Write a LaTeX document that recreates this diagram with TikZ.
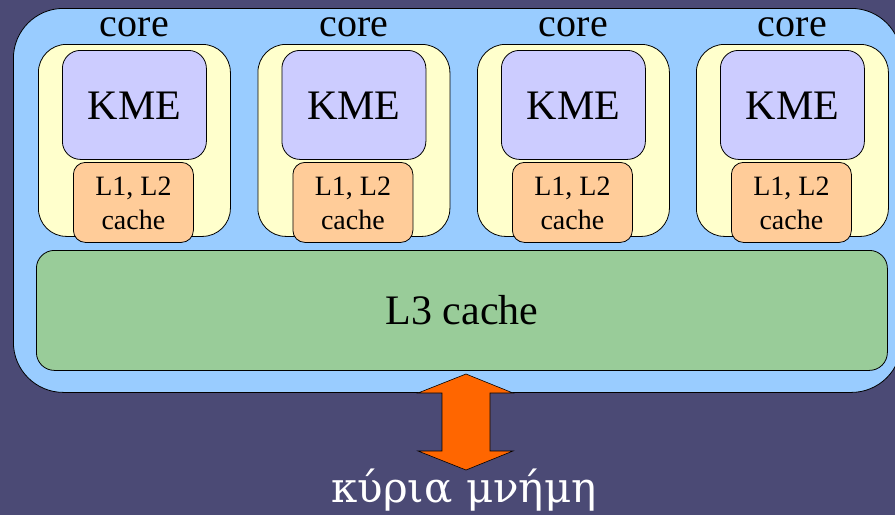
\documentclass[tikz,border=0pt]{standalone}
\usepackage{fontspec}
\setmainfont{Liberation Serif}
\newfontfamily\greekfont{DejaVu Serif}
\definecolor{bgcol}{RGB}{75,74,117}
\definecolor{chipcol}{RGB}{153,204,255}
\definecolor{corecol}{RGB}{255,255,204}
\definecolor{kmecol}{RGB}{204,204,255}
\definecolor{cachecol}{RGB}{255,204,153}
\definecolor{lthreecol}{RGB}{153,204,153}
\definecolor{buscol}{RGB}{255,102,0}
\tikzset{
  box/.style={draw=black, line width=0.8pt, inner sep=0pt, anchor=north west},
  corebox/.style={box, fill=corecol, rounded corners=28pt, minimum width=192pt, minimum height=192pt},
  kmebox/.style={box, fill=kmecol, rounded corners=18pt, minimum width=144pt, minimum height=109pt},
  cachebox/.style={box, fill=cachecol, rounded corners=12pt, minimum width=120pt, minimum height=80pt},
  label/.style={anchor=base, inner sep=0pt, font=\fontsize{40}{44}\selectfont},
}
\begin{document}
\begin{tikzpicture}[x=1pt, y=-1pt]
    \fill[bgcol] (0,0) rectangle (895,515);
    \useasboundingbox (0,0) rectangle (895,515);
    \begin{scope}
    \clip (0,0) rectangle (895,515);
    \node[box, fill=chipcol, rounded corners=50pt, minimum width=888pt, minimum height=384pt] (chip) at (13,8) {};
    \end{scope}
    \def\xs{38,257.5,477,696}
    \foreach \x [count=\i from 1] in \xs {
      \node[corebox] (c\i) at (\x,44) {};
      \node[label] at ([yshift=8pt]c\i.north) {core};
      \node[kmebox] (k\i) at (\x+24,50) {};
      \node[label, font=\fontsize{42}{46}\selectfont] at ([yshift=-14.5pt]k\i.center) {KME};
      \node[cachebox] (m\i) at (\x+35,162) {};
      \node[anchor=center, inner sep=0pt, align=center, font=\fontsize{28}{34}\selectfont] at ([yshift=-1pt]m\i.center) {L1, L2\\cache};
    }
    \node[box, fill=lthreecol, rounded corners=18pt, minimum width=851pt, minimum height=120pt] (l3) at (36,250) {};
    \node[label, font=\fontsize{42}{46}\selectfont] at ([yshift=-14pt]l3.center) {L3 cache};
    \node[label, text=white, font=\greekfont\fontsize{42}{46}\selectfont] (mem) at (464,502) {κύρια μνήμη};
    \coordinate (bustop) at (466,374);
    \coordinate (busbot) at (466,470);
    \draw[fill=buscol, line width=0.6pt, line join=miter]
      (bustop) -- ++(47,19) -- ++(-23,0) -- ++(0,58) -- ++(23,0) -- (busbot)
      -- ++(-48,-19) -- ++(24,0) -- ++(0,-58) -- ++(-24,0) -- cycle;
\end{tikzpicture}
\end{document}
